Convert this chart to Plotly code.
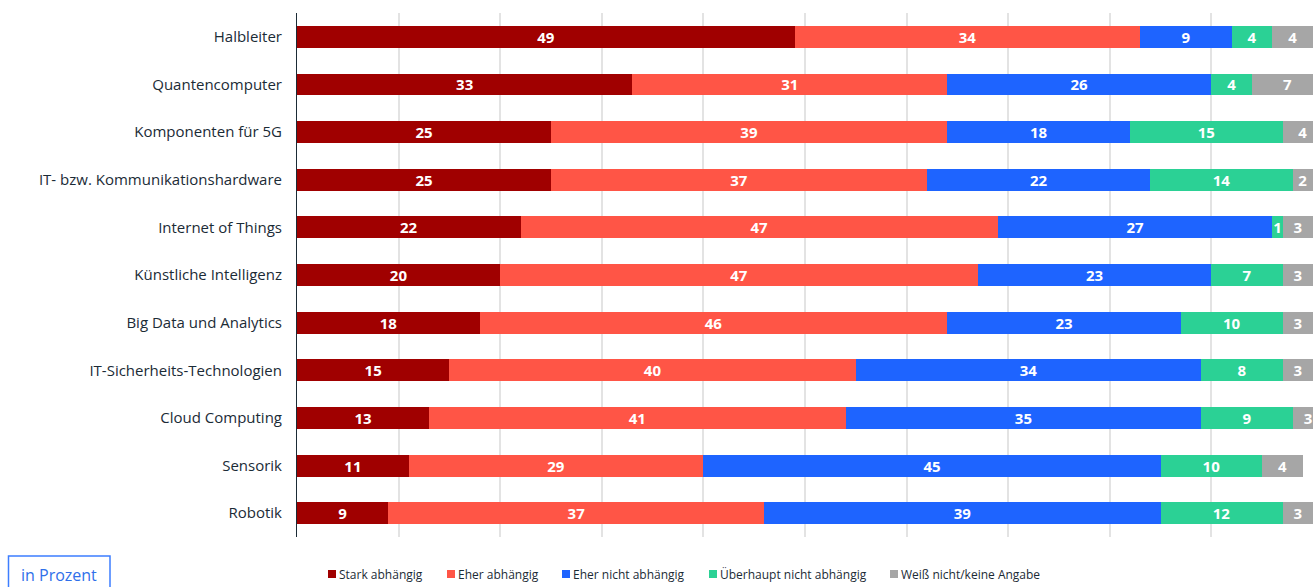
import plotly.graph_objects as go

# Technologies (top to bottom)
categories = [
    "Halbleiter",
    "Quantencomputer",
    "Komponenten für 5G",
    "IT- bzw. Kommunikationshardware",
    "Internet of Things",
    "Künstliche Intelligenz",
    "Big Data und Analytics",
    "IT-Sicherheits-Technologien",
    "Cloud Computing",
    "Sensorik",
    "Robotik",
]

# Share of answers in percent
stark_abhaengig = [49, 33, 25, 25, 22, 20, 18, 15, 13, 11, 9]
eher_abhaengig = [34, 31, 39, 37, 47, 47, 46, 40, 41, 29, 37]
eher_nicht_abhaengig = [9, 26, 18, 22, 27, 23, 23, 34, 35, 45, 39]
ueberhaupt_nicht_abhaengig = [4, 4, 15, 14, 1, 7, 10, 8, 9, 10, 12]
weiss_nicht = [4, 7, 4, 2, 3, 3, 3, 3, 3, 4, 3]

series_names = [
    "Stark abhängig",
    "Eher abhängig",
    "Eher nicht abhängig",
    "Überhaupt nicht abhängig",
    "Weiß nicht/keine Angabe",
]
series_values = [
    stark_abhaengig,
    eher_abhaengig,
    eher_nicht_abhaengig,
    ueberhaupt_nicht_abhaengig,
    weiss_nicht,
]
colors = ["#a00000", "#ff5546", "#1e64ff", "#2bd195", "#a6a6a6"]

W, H = 1314, 587
M_L, M_R, M_T, M_B = 297, 1, 13, 50
PLOT_W = W - M_L - M_R
PLOT_H = H - M_T - M_B

TEXT_COLOR = "#1b2b36"
FONT = "Open Sans"

fig = go.Figure()
for name, vals, col in zip(series_names, series_values, colors):
    fig.add_trace(
        go.Bar(
            y=categories,
            x=vals,
            name=name,
            orientation="h",
            marker=dict(color=col, line=dict(width=0)),
            text=[str(v) for v in vals],
            textposition="inside",
            insidetextanchor="middle",
            textangle=0,
            constraintext="none",
            textfont=dict(family=FONT, size=15, color="white", weight="bold"),
            hoverinfo="skip",
        )
    )


def px_x(p):
    return (p - M_L) / PLOT_W


def px_y(p):
    return (H - M_B - p) / PLOT_H


# Legend drawn as small squares with labels below the plot
legend_x = [328, 447, 562, 709, 890]
shapes = []
annotations = []
for name, col, lx in zip(series_names, colors, legend_x):
    shapes.append(
        dict(
            type="rect", xref="paper", yref="paper",
            x0=px_x(lx), x1=px_x(lx + 8),
            y0=px_y(578), y1=px_y(570),
            fillcolor=col, line=dict(width=0),
        )
    )
    annotations.append(
        dict(
            text=name, xref="paper", yref="paper",
            x=px_x(lx + 9), y=px_y(574),
            xanchor="left", yanchor="middle", showarrow=False,
            font=dict(family=FONT, size=12, color=TEXT_COLOR),
        )
    )

# Unit box
shapes.append(
    dict(
        type="rect", xref="paper", yref="paper",
        x0=px_x(8.5), x1=px_x(110), y0=px_y(556), y1=px_y(600),
        fillcolor="rgba(0,0,0,0)", line=dict(color="#3d7eff", width=1.5),
    )
)
annotations.append(
    dict(
        text="in Prozent", xref="paper", yref="paper",
        x=px_x(59), y=px_y(575), xanchor="center", yanchor="middle",
        showarrow=False,
        font=dict(family=FONT, size=16, color="#2f6fea"),
    )
)

fig.update_layout(
    barmode="stack",
    bargap=0.54,
    width=W,
    height=H,
    margin=dict(l=M_L, r=M_R, t=M_T, b=M_B, pad=0),
    paper_bgcolor="white",
    plot_bgcolor="white",
    showlegend=False,
    uniformtext=dict(minsize=15, mode="show"),
    shapes=shapes,
    annotations=annotations,
    font=dict(family=FONT, color=TEXT_COLOR),
    xaxis=dict(
        range=[0, 100],
        dtick=10,
        showticklabels=False,
        showgrid=True,
        gridcolor="#e3e3e3",
        gridwidth=1.5,
        zeroline=False,
        showline=False,
        fixedrange=True,
    ),
    yaxis=dict(
        categoryorder="array",
        categoryarray=categories,
        autorange="reversed",
        showline=True,
        linecolor=TEXT_COLOR,
        linewidth=1,
        ticks="",
        ticklabelstandoff=11,
        tickfont=dict(family=FONT, size=15, color=TEXT_COLOR),
        showgrid=False,
        fixedrange=True,
    ),
)

fig.write_html("out.html", config={"displayModeBar": False})
